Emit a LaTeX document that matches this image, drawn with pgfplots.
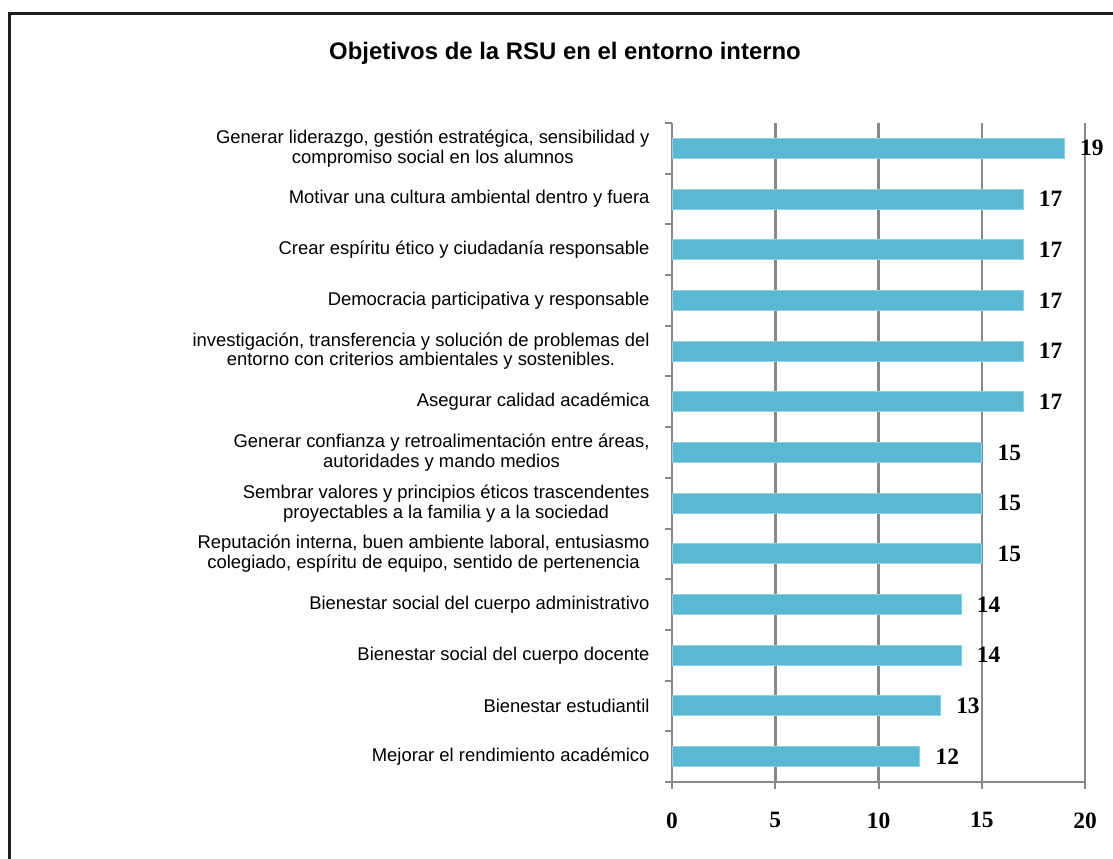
\documentclass[border=0pt]{standalone}
\usepackage{pgfplots}
\pgfplotsset{compat=1.18}
\usepackage{fontspec}
\setmainfont{Liberation Sans}
\newfontfamily\numfont{Liberation Serif}
\definecolor{barc}{HTML}{5BB8D2}
\definecolor{barb}{HTML}{8FD0E2}
\definecolor{gridc}{HTML}{898989}
\begin{document}
\begin{tikzpicture}[x=1bp,y=1bp]
\path[use as bounding box] (0,0) rectangle (1113,859);
\draw[line width=3bp, black!88] (9,-5) -- (9,845) -- (1120,845);
\node[font=\fontsize{24}{28}\selectfont\bfseries] at (565,806) {Objetivos de la RSU en el entorno interno};
\begin{axis}[
  at={(672bp,77bp)}, anchor=south west,
  xbar, scale only axis, width=413bp, height=659bp,
  xmin=0, xmax=20, ymin=-0.5, ymax=12.5,
  bar width=20bp, bar shift=0pt,
  axis lines*=left,
  axis line style={draw=gridc, line width=2.5bp},
  xmajorgrids, grid style={draw=gridc, line width=2.5bp},
  xtick={0,5,...,20},
  minor xtick={0,5,...,20},
  ytick={0,...,12},
  minor ytick={-0.5,0.5,...,12.5},
  tick align=outside,
  major tick length=0pt, minor tick length=7bp,
  minor tick style={draw=gridc, line width=2bp},
  /pgf/number format/assume math mode=true,
  xticklabel style={font=\numfont\bfseries\fontsize{23.5}{26}\selectfont, yshift=-27bp},
  yticklabel style={font=\fontsize{18.5}{20}\selectfont, align=center, xshift=-19bp},
  yticklabels={
    Mejorar el rendimiento académico,
    Bienestar estudiantil,
    Bienestar social del cuerpo docente,
    Bienestar social del cuerpo administrativo,
    {Reputación interna, buen ambiente laboral, entusiasmo\\colegiado, espíritu de equipo, sentido de pertenencia},
    {Sembrar valores y principios éticos trascendentes\\proyectables a la familia y a la sociedad},
    {Generar confianza y retroalimentación entre áreas,\\autoridades y mando medios},
    Asegurar calidad académica,
    {investigación, transferencia y solución de problemas del\\entorno con criterios ambientales y sostenibles.},
    Democracia participativa y responsable,
    Crear espíritu ético y ciudadanía responsable,
    Motivar una cultura ambiental dentro y fuera,
    {Generar liderazgo, gestión estratégica, sensibilidad y\\compromiso social en los alumnos}
  },
  nodes near coords,
  every node near coord/.append style={font=\numfont\bfseries\fontsize{23.5}{26}\selectfont, anchor=west, xshift=12bp, text=black},
  clip=false,
]
\addplot[fill=barc, draw=barb, line width=1bp] coordinates {
  (12,0) (13,1) (14,2) (14,3) (15,4) (15,5) (15,6)
  (17,7) (17,8) (17,9) (17,10) (17,11) (19,12)
};
\end{axis}
\end{tikzpicture}
\end{document}
